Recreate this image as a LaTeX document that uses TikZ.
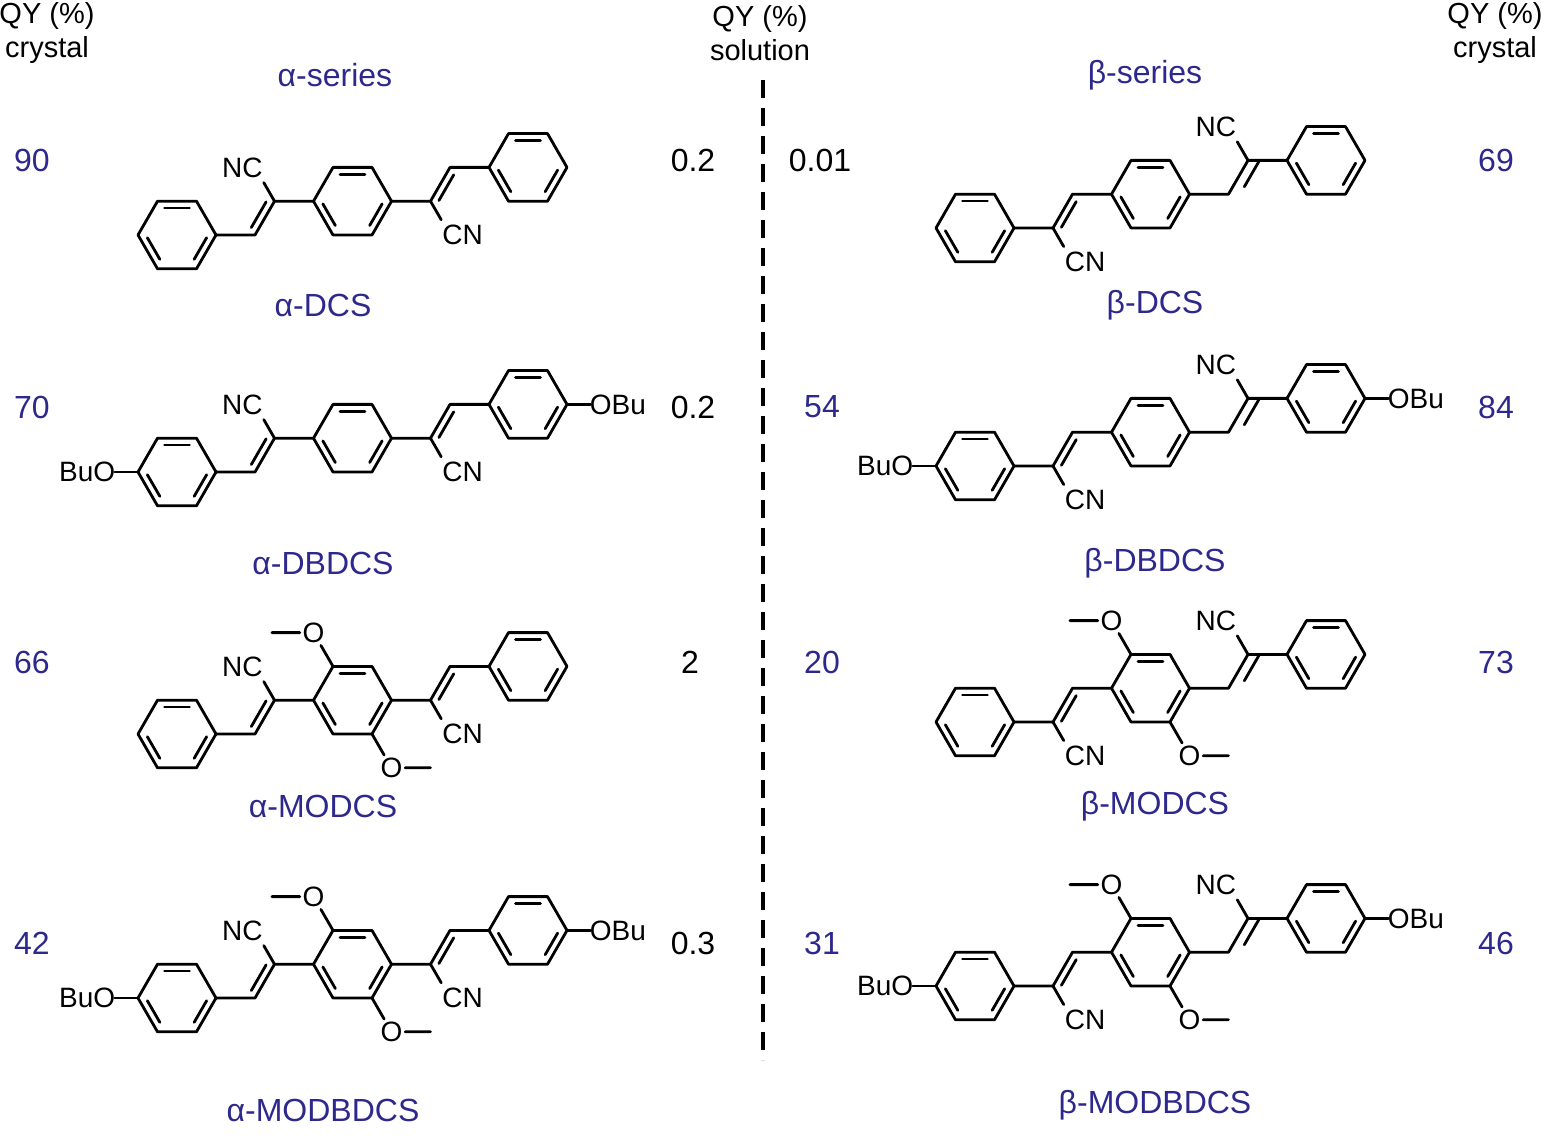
\documentclass[tikz,border=0pt]{standalone}
\usepackage{fontspec}
\setmainfont{Liberation Sans}
\definecolor{blu}{RGB}{45,40,140}
\tikzset{bond/.style={line width=1.4pt,line cap=round,line join=round},
 atom/.style={font=\fontsize{14}{14}\selectfont,inner sep=0pt},
 nm/.style={font=\fontsize{16}{16}\selectfont,text=blu},
 num/.style={font=\fontsize{16}{16}\selectfont,text=blu},
 numk/.style={font=\fontsize{16}{16}\selectfont},
 hdr/.style={font=\fontsize{14.5}{17}\selectfont,align=center}}
\newcommand{\hexring}[2]{%
 \draw[bond] ({#1+2},{#2}) -- ({#1+1},{#2+1}) -- ({#1-1},{#2+1}) -- ({#1-2},{#2}) -- ({#1-1},{#2-1}) -- ({#1+1},{#2-1}) -- cycle;
 \draw[bond] ({#1-0.64},{#2-0.8}) -- ({#1+0.64},{#2-0.8});
 \draw[bond] ({#1+1.52},{#2+0.08}) -- ({#1+0.88},{#2+0.72});
 \draw[bond] ({#1-0.88},{#2+0.72}) -- ({#1-1.52},{#2+0.08});}
\newcommand{\alphachain}{%
 \hexring{0}{0}\hexring{9}{-1}\hexring{18}{-2}
 \draw[bond] (2,0)--(4,0)--(5,-1)--(7,-1) (11,-1)--(13,-1)--(14,-2)--(16,-2);
 \draw[bond] (3.81,-0.22)--(4.57,-0.98) (13.43,-1.02)--(14.19,-1.78);
 \draw[bond] (5,-1)--(4.45,-1.55) (13,-1)--(13.55,-0.45);
 \node[atom] (nc) at (3.35,-2) {NC};
 \node[atom] (cn) at (14.65,0) {CN};}
\newcommand{\betachain}{%
 \hexring{0}{0}\hexring{9}{-1}\hexring{18}{-2}
 \draw[bond] (2,0)--(4,0)--(5,-1)--(7,-1) (11,-1)--(13,-1)--(14,-2)--(16,-2);
 \draw[bond] (4.43,-0.02)--(5.19,-0.78) (13.81,-1.22)--(14.57,-1.98);
 \draw[bond] (4,0)--(4.55,0.55) (14,-2)--(13.45,-2.55);
 \node[atom] (cn) at (5.65,1) {CN};
 \node[atom] (nc) at (12.35,-3) {NC};}
\newcommand{\obu}{%
 \draw[bond] (20,-2)--(21.2,-2) (-2,0)--(-3.2,0);
 \node[atom,anchor=west] (obu) at (21.15,-2) {OBu};
 \node[atom,anchor=east] (buo) at (-3.15,0) {BuO};}
\newcommand{\meo}{%
 \draw[bond] (8,-2)--(7.38,-2.62) (4.87,-3)--(6.3,-3) (10,0)--(10.62,0.62) (11.7,1)--(13,1);
 \node[atom] (o1) at (7,-3) {O};
 \node[atom] (o2) at (11,1) {O};}
\begin{document}
\begin{tikzpicture}[x=0.5pt,y=-0.5pt]
\useasboundingbox (0,0) rectangle (1546,1138);
\node[hdr] (h1) at (47,33) {QY (\%)\\crystal};
\node[hdr] (h2) at (760,33) {QY (\%)\\solution};
\node[hdr] (h3) at (1495,33) {QY (\%)\\crystal};
\node[nm] (as) at (335,75) {α-series};
\node[nm] (bs) at (1145,75) {β-series};
\coordinate (dtop) at (763,80);
\coordinate (dbot) at (763,1060);
\draw[line width=1.6pt,dash pattern=on 9pt off 5pt] (dtop)--(dbot);
\node[num] at (32,160) {90}; \node[num] at (32,407) {70};
\node[num] at (32,662) {66}; \node[num] at (32,943) {42};
\node[numk] at (693,160) {0.2}; \node[numk] at (693,407) {0.2};
\node[numk] at (690,662) {2}; \node[numk] at (693,943) {0.3};
\node[numk] at (820,160) {0.01}; \node[num] at (822,407) {54};
\node[num] at (822,662) {20}; \node[num] at (822,943) {31};
\node[num] at (1496,160) {69}; \node[num] at (1496,407) {84};
\node[num] at (1496,662) {73}; \node[num] at (1496,943) {46};
\node[nm] at (323,305) {α-DCS}; \node[nm] at (323,563) {α-DBDCS};
\node[nm] at (323,806) {α-MODCS}; \node[nm] at (323,1110) {α-MODBDCS};
\node[nm] at (1155,305) {β-DCS}; \node[nm] at (1155,563) {β-DBDCS};
\node[nm] at (1155,806) {β-MODCS}; \node[nm] at (1155,1105) {β-MODBDCS};
\begin{scope}[shift={(177,235)}]\begin{scope}[x=9.75pt,y=-16.9pt]\alphachain\end{scope}\end{scope}
\begin{scope}[shift={(177,472)}]\begin{scope}[x=9.75pt,y=-16.9pt]\alphachain\obu\end{scope}\end{scope}
\begin{scope}[shift={(177,734)}]\begin{scope}[x=9.75pt,y=-16.9pt]\alphachain\meo\end{scope}\end{scope}
\begin{scope}[shift={(177,998)}]\begin{scope}[x=9.75pt,y=-16.9pt]\alphachain\meo\obu\end{scope}\end{scope}
\begin{scope}[shift={(975,228)}]\begin{scope}[x=9.75pt,y=-16.9pt]\betachain\end{scope}\end{scope}
\begin{scope}[shift={(975,466)}]\begin{scope}[x=9.75pt,y=-16.9pt]\betachain\obu\end{scope}\end{scope}
\begin{scope}[shift={(975,722)}]\begin{scope}[x=9.75pt,y=-16.9pt]\betachain\meo\end{scope}\end{scope}
\begin{scope}[shift={(975,986)}]\begin{scope}[x=9.75pt,y=-16.9pt]\betachain\meo\obu\end{scope}\end{scope}
\end{tikzpicture}
\end{document}
